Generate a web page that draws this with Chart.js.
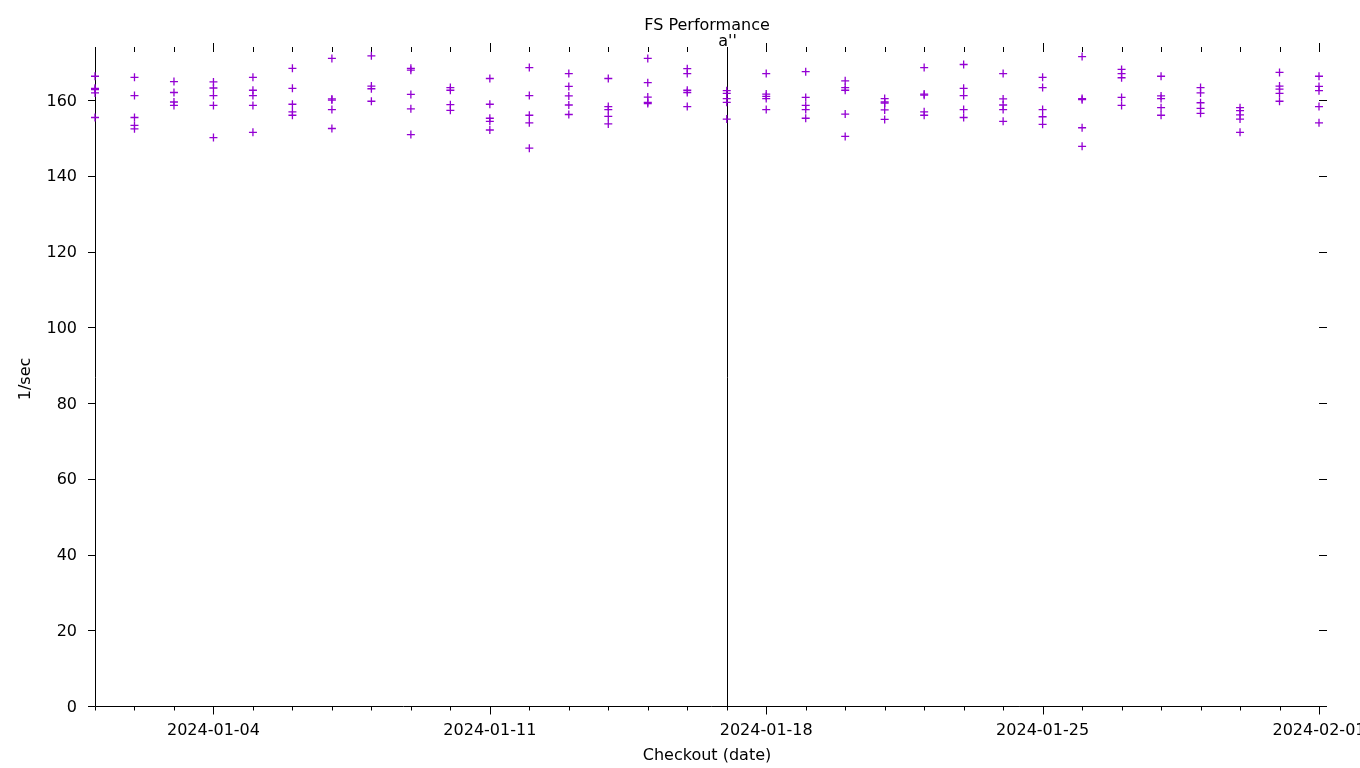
<!DOCTYPE html>
<html>
<head>
<meta charset="utf-8">
<title>FS Performance</title>
<script src="https://cdn.jsdelivr.net/npm/chart.js@4/dist/chart.umd.min.js"></script>
<style>
  html, body { margin: 0; padding: 0; background: #fff; }
  #wrap { width: 1360px; height: 768px; }
</style>
</head>
<body>
<div id="wrap"><canvas id="chart"></canvas></div>
<script>
// one checkout per day, several runs each (1/sec)
const checkoutDays = [
  '2024-01-01', '2024-01-02', '2024-01-03', '2024-01-04', '2024-01-05', '2024-01-06',
  '2024-01-07', '2024-01-08', '2024-01-09', '2024-01-10', '2024-01-11', '2024-01-12',
  '2024-01-13', '2024-01-14', '2024-01-15', '2024-01-16', '2024-01-17', '2024-01-18',
  '2024-01-19', '2024-01-20', '2024-01-21', '2024-01-22', '2024-01-23', '2024-01-24',
  '2024-01-25', '2024-01-26', '2024-01-27', '2024-01-28', '2024-01-29', '2024-01-30',
  '2024-01-31', '2024-02-01'
];

const runsPerDay = [
  [166.3, 163.1, 162.8, 161.9, 155.4],
  [166.0, 161.2, 155.4, 153.3, 152.4],
  [164.9, 162.0, 159.5, 158.6],
  [164.8, 163.2, 161.2, 158.6, 150.1],
  [166.0, 162.6, 161.2, 158.6, 151.5],
  [168.4, 163.1, 158.9, 156.9, 156.0],
  [171.0, 160.3, 160.0, 157.5, 152.5],
  [171.7, 163.7, 163.0, 159.7],
  [168.4, 167.9, 161.5, 157.7, 150.9],
  [163.3, 162.6, 158.8, 157.3],
  [165.7, 158.9, 155.2, 154.4, 152.1],
  [168.6, 161.2, 156.0, 154.0, 147.3],
  [167.0, 163.6, 161.1, 158.7, 156.2],
  [165.7, 158.3, 157.5, 155.7, 153.7],
  [171.0, 164.6, 160.8, 159.4, 159.1],
  [168.3, 167.0, 162.6, 162.0, 158.3],
  [162.5, 161.8, 160.4, 159.4, 155.0],
  [167.0, 161.6, 161.0, 160.4, 157.5],
  [167.5, 160.7, 158.6, 157.5, 155.2],
  [165.1, 163.3, 162.6, 156.3, 150.4],
  [160.4, 159.5, 159.2, 157.4, 154.9],
  [168.6, 161.6, 161.3, 156.9, 156.0],
  [169.4, 163.1, 161.2, 157.5, 155.4],
  [167.0, 160.3, 158.7, 157.5, 154.4],
  [166.0, 163.3, 157.5, 155.6, 153.6],
  [171.5, 160.4, 160.1, 152.7, 147.8],
  [168.1, 167.0, 165.9, 160.7, 158.6],
  [166.3, 161.1, 160.4, 158.0, 156.0],
  [163.3, 161.9, 159.3, 157.8, 156.5],
  [158.0, 157.2, 156.1, 155.0, 151.5],
  [167.3, 163.7, 162.9, 161.8, 159.7],
  [166.3, 163.6, 162.5, 158.3, 154.0]
];

const yTickStep = 20;
const yMax = 172.7;
const labelledWeekday = 3;   // every 7th day from 2024-01-04 gets a label
const markerDay = '2024-01-17';
const markerLabel = "a''";

const DAY = 86400000;
const t0 = Date.parse(checkoutDays[0]);
const tEnd = Date.parse(checkoutDays[checkoutDays.length - 1]);

const points = [];
checkoutDays.forEach((d, i) => {
  runsPerDay[i].forEach(v => points.push({ x: Date.parse(d), y: v }));
});

const FONT = { family: '"DejaVu Sans", sans-serif', size: 16 };

// gnuplot look: left + bottom border only, ticks out on all four sides
const gnuplotFrame = {
  id: 'gnuplotFrame',
  beforeDatasetsDraw(chart) {
    const { ctx, chartArea: a, scales: { x, y } } = chart;
    ctx.save();
    ctx.strokeStyle = '#000';
    ctx.lineWidth = 1;
    ctx.beginPath();
    const L = a.left + 0.5, B = Math.round(a.bottom) + 0.5;
    ctx.moveTo(L, a.top - 4);
    ctx.lineTo(L, B);
    ctx.lineTo(a.right + 8, B);
    x.ticks.forEach(t => {
      const px = Math.round(x.getPixelForValue(t.value)) + 0.5;
      const len = t.label ? 8 : 4;
      ctx.moveTo(px, B); ctx.lineTo(px, B + len);
      ctx.moveTo(px, a.top); ctx.lineTo(px, a.top - len - 1);
    });
    y.ticks.forEach(t => {
      const py = Math.round(y.getPixelForValue(t.value)) + 0.5;
      ctx.moveTo(a.left - 7, py); ctx.lineTo(a.left, py);
      ctx.moveTo(a.right, py); ctx.lineTo(a.right + 8, py);
    });
    const mx = Math.round(x.getPixelForValue(Date.parse(markerDay))) + 0.5;
    ctx.moveTo(mx, B);
    ctx.lineTo(mx, a.top - 3);
    ctx.stroke();

    ctx.fillStyle = '#000';
    ctx.font = '16px "DejaVu Sans", sans-serif';
    ctx.textAlign = 'center';
    ctx.textBaseline = 'alphabetic';
    ctx.fillText(markerLabel, mx, a.top - 6.5);
    ctx.restore();
  }
};

new Chart(document.getElementById('chart'), {
  type: 'scatter',
  data: {
    datasets: [{
      data: points,
      pointStyle: 'cross',
      pointRadius: 4,
      pointHoverRadius: 4,
      borderWidth: 1.3,
      borderColor: '#9400d3',
      backgroundColor: '#9400d3',
      clip: false
    }]
  },
  options: {
    responsive: true,
    maintainAspectRatio: false,
    animation: false,
    events: [],
    layout: { padding: { left: 0, right: 41, top: 0, bottom: 0 } },
    plugins: {
      legend: { display: false },
      tooltip: { enabled: false },
      title: {
        display: true,
        text: 'FS Performance',
        fullSize: false,
        color: '#000',
        font: { ...FONT, weight: 'normal' },
        padding: { top: 16, bottom: 16.8 }
      }
    },
    scales: {
      x: {
        type: 'linear',
        min: t0,
        max: tEnd,
        grid: { display: false, drawTicks: false },
        border: { display: false },
        title: {
          display: true,
          text: 'Checkout (date)',
          color: '#000',
          font: FONT,
          padding: { top: 0, bottom: 3 }
        },
        ticks: {
          stepSize: DAY,
          autoSkip: false,
          maxRotation: 0,
          includeBounds: false,
          padding: 15.5,
          color: '#000',
          font: FONT,
          callback: v => {
            const i = Math.round((v - t0) / DAY);
            return i % 7 === labelledWeekday ? new Date(v).toISOString().slice(0, 10) : '';
          }
        },
        afterFit: s => { s.height = 62; s.paddingLeft = 0; s.paddingRight = 0; }
      },
      y: {
        min: 0,
        max: yMax,
        grid: { display: false, drawTicks: false },
        border: { display: false },
        title: {
          display: true,
          text: '1/sec',
          color: '#000',
          font: FONT,
          padding: { top: 16, bottom: 0 }
        },
        ticks: {
          stepSize: yTickStep,
          includeBounds: false,
          padding: 18,
          labelOffset: 1.5,
          color: '#000',
          font: FONT
        },
        afterFit: s => { s.width = 95; s.paddingTop = 0; s.paddingBottom = 0; }
      }
    }
  },
  plugins: [gnuplotFrame]
});
</script>
</body>
</html>
